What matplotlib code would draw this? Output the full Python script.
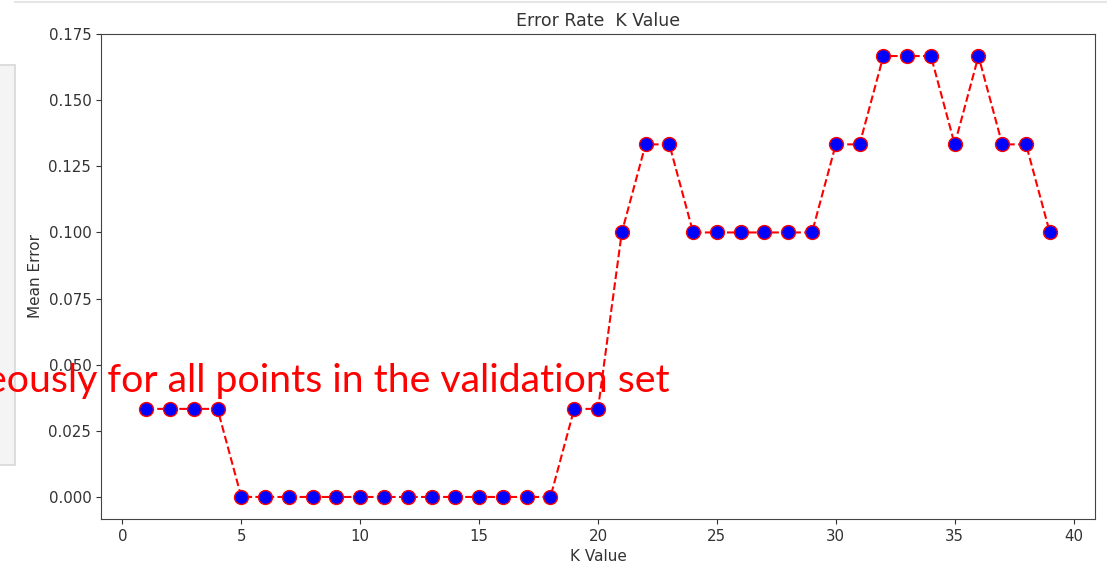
import matplotlib
matplotlib.use("Agg")
import matplotlib.pyplot as plt
from matplotlib.patches import Rectangle
from matplotlib.lines import Line2D

# ---- Data ----
k_values = list(range(1, 40))
mean_error = [0.0333, 0.0333, 0.0333, 0.0333,
              0.0, 0.0, 0.0, 0.0, 0.0, 0.0, 0.0, 0.0, 0.0, 0.0, 0.0, 0.0, 0.0, 0.0,
              0.0333, 0.0333, 0.1, 0.1333, 0.1333,
              0.1, 0.1, 0.1, 0.1, 0.1, 0.1,
              0.1333, 0.1333, 0.1667, 0.1667, 0.1667, 0.1333, 0.1667,
              0.1333, 0.1333, 0.1]
overlay_text = "eously for all points in the validation set"

fig = plt.figure(figsize=(11.07, 5.63), dpi=100)

# ---- Background slide bits (screenshot leftovers) ----
fig.patches.append(Rectangle((-0.01, 1 - 465 / 563), 15 / 1107 + 0.01, 400 / 563,
                             transform=fig.transFigure, facecolor="#f4f4f4",
                             edgecolor="#d8d8d8", linewidth=1.2, zorder=0))
fig.lines.append(Line2D([15 / 1107, 1], [1 - 2 / 563, 1 - 2 / 563],
                        transform=fig.transFigure, color="#e6e6e6", linewidth=1.5))

# ---- Chart ----
ax = fig.add_axes([101 / 1107, 1 - 519 / 563, (1095 - 101) / 1107, (519 - 34) / 563])
ax.plot(k_values, mean_error, color="red", linestyle="dashed", marker="o",
        markerfacecolor="blue", markersize=10)
ax.set_title("Error Rate  K Value", fontsize=12.5, color="#333333")
ax.set_xlabel("K Value", fontsize=11, color="#333333")
ax.set_ylabel("Mean Error", fontsize=11, color="#333333")
ax.tick_params(labelsize=10.8, colors="#333333")
ax.set_yticks([0.0, 0.025, 0.05, 0.075, 0.1, 0.125, 0.15, 0.175])
ax.set_yticklabels(["0.000", "0.025", "0.050", "0.075", "0.100", "0.125", "0.150", "0.175"])
for s in ax.spines.values():
    s.set_color("#444444")

# ---- Red overlay text from slide ----
fig.text(670 / 1107, 1 - 392 / 563, overlay_text, color="red", fontsize=28.3,
         family="Lato", ha="right", va="baseline")

fig.savefig("out.png", dpi=100)
